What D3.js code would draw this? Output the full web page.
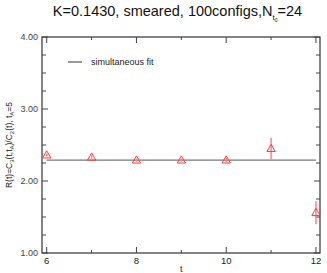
<!DOCTYPE html>
<head>
<meta charset="utf-8">
<script src="https://d3js.org/d3.v7.min.js"></script>
<style>
  body { margin: 0; background: #fff; }
  text { font-family: "Liberation Sans", Arial, sans-serif; }
</style>
</head>
<body>
<div id="chart"></div>
<script>
// data
const tVals = [6, 7, 8, 9, 10, 11, 12];
const rVals = [2.36, 2.33, 2.29, 2.29, 2.29, 2.45, 1.56];
const rErrs = [0.02, 0.02, 0.02, 0.02, 0.03, 0.15, 0.16];
const fitValue = 2.29;
const fitRange = [6, 12];
const xTicks = [6, 8, 10, 12];
const yTicks = [1, 2, 3, 4];

const W = 327, H = 273;
const margin = {top: 37, right: 7, bottom: 20, left: 42};
const width = W - margin.left - margin.right,
      height = H - margin.top - margin.bottom;

const svg = d3.select("#chart").append("svg")
    .attr("width", W).attr("height", H);

const x = d3.scaleLinear().domain([5.895, 12.09]).range([0, width]);
const y = d3.scaleLinear().domain([1, 4]).range([height, 0]);

const g = svg.append("g")
    .attr("transform", "translate(" + margin.left + "," + margin.top + ")");

// frame
g.append("rect").attr("width", width).attr("height", height)
    .attr("fill", "none").attr("stroke", "#333").attr("stroke-width", 1.2);

const tickCol = "#444";
// x ticks bottom & top
d3.range(6, 12.01, 1).forEach(function(t) {
  const major = t % 2 === 0;
  const len = major ? 6 : 3;
  g.append("line").attr("x1", x(t)).attr("x2", x(t))
    .attr("y1", height).attr("y2", height - len).attr("stroke", tickCol);
  g.append("line").attr("x1", x(t)).attr("x2", x(t))
    .attr("y1", 0).attr("y2", len).attr("stroke", tickCol);
});
// y ticks left & right
d3.range(1, 4.001, 0.25).forEach(function(v) {
  const major = Math.abs(v - Math.round(v)) < 1e-6;
  const len = major ? 6 : 4;
  g.append("line").attr("y1", y(v)).attr("y2", y(v))
    .attr("x1", 0).attr("x2", len).attr("stroke", tickCol);
  g.append("line").attr("y1", y(v)).attr("y2", y(v))
    .attr("x1", width).attr("x2", width - len).attr("stroke", tickCol);
});

g.selectAll(".xl").data(xTicks).enter().append("text")
    .attr("x", function(d) { return x(d); })
    .attr("y", height + 11)
    .attr("text-anchor", "middle")
    .attr("font-size", 9.5).attr("fill", "#222")
    .text(function(d) { return d; });

g.selectAll(".yl").data(yTicks).enter().append("text")
    .attr("x", -4)
    .attr("y", function(d) { return y(d) + 3; })
    .attr("text-anchor", "end")
    .attr("font-size", 9).attr("fill", "#444")
    .text(function(d) { return d.toFixed(2); });

// axis titles
svg.append("text").attr("x", margin.left + x(9)).attr("y", H - 1)
    .attr("text-anchor", "middle").attr("font-size", 9).attr("fill", "#222")
    .text("t");

const yl = svg.append("text")
    .attr("transform", "translate(12," + (margin.top + height / 2) + ") rotate(-90)")
    .attr("text-anchor", "middle").attr("font-size", 8.5).attr("fill", "#222");
yl.append("tspan").text("R(t)=C");
yl.append("tspan").attr("font-size", 6).attr("dy", 2).text("3");
yl.append("tspan").attr("dy", -2).text("(t,t");
yl.append("tspan").attr("font-size", 6).attr("dy", 2).text("A");
yl.append("tspan").attr("dy", -2).text(")/C");
yl.append("tspan").attr("font-size", 6).attr("dy", 2).text("2");
yl.append("tspan").attr("dy", -2).text("(t), t");
yl.append("tspan").attr("font-size", 6).attr("dy", 2).text("A");
yl.append("tspan").attr("dy", -2).text("=5");

// title
const title = svg.append("text").attr("x", W / 2 + 14).attr("y", 16)
    .attr("text-anchor", "middle").attr("font-size", 14.5).attr("fill", "#111");
title.append("tspan").text("K=0.1430, smeared, 100configs,N");
title.append("tspan").attr("font-size", 8).attr("dy", 4).text("t");
title.append("tspan").attr("font-size", 5).attr("dy", 2).text("0");
title.append("tspan").attr("dy", -6).text("=24");

// fit line
g.append("line")
    .attr("x1", x(fitRange[0])).attr("x2", x(fitRange[1]))
    .attr("y1", y(fitValue)).attr("y2", y(fitValue))
    .attr("stroke", "#777").attr("stroke-width", 1.3);

// legend
g.append("line").attr("x1", 26).attr("x2", 40).attr("y1", 25).attr("y2", 25)
    .attr("stroke", "#333").attr("stroke-width", 1);
g.append("text").attr("x", 49).attr("y", 28).attr("font-size", 9).attr("fill", "#222")
    .text("simultaneous fit");

// data points
const pts = tVals.map(function(t, i) { return {t: t, r: rVals[i], e: rErrs[i]}; });
const red = "#ff3b3b";
g.selectAll(".err").data(pts).enter().append("line")
    .attr("x1", function(d) { return x(d.t); }).attr("x2", function(d) { return x(d.t); })
    .attr("y1", function(d) { return y(d.r - d.e); })
    .attr("y2", function(d) { return y(d.r + d.e); })
    .attr("stroke", "#ff8080").attr("stroke-width", 1.5);

const tri = d3.symbol().type(d3.symbolTriangle).size(30);
g.selectAll(".pt").data(pts).enter().append("path")
    .attr("d", tri)
    .attr("transform", function(d) { return "translate(" + x(d.t) + "," + (y(d.r) + 0.5) + ")"; })
    .attr("fill", "none").attr("stroke", red).attr("stroke-width", 1);
</script>
</body>
